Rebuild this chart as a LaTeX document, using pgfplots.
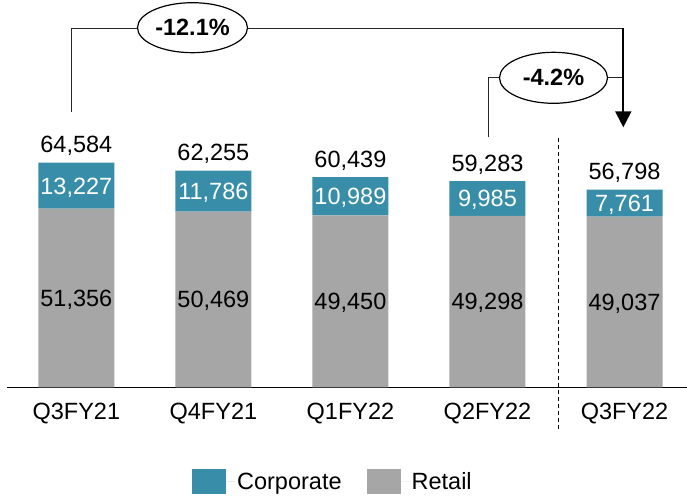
\documentclass[border=0pt]{standalone}
\usepackage{pgfplots}
\pgfplotsset{compat=1.18}
\usepackage{fontspec}
\setmainfont{Liberation Sans}
\usetikzlibrary{shapes.geometric,arrows.meta}
\definecolor{corp}{RGB}{56,142,168}
\definecolor{retail}{RGB}{166,166,166}
\newcommand{\lbl}{\fontsize{23.5}{28}\selectfont}
\begin{document}
\begin{tikzpicture}
\useasboundingbox (0pt,0pt) rectangle (687pt,496pt);
\begin{axis}[
  at={(7pt,108.7pt)}, anchor=south west,
  scale only axis, width=680pt, height=387.3pt,
  xmin=-0.506, xmax=4.456, ymin=0, ymax=111325,
  ybar stacked, bar width=76pt,
  axis x line*=bottom, axis y line=none,
  x axis line style={line width=1.5pt, black},
  xtick={0,1,2,3,4},
  xticklabels={Q3FY21,Q4FY21,Q1FY22,Q2FY22,Q3FY22},
  major tick length=0pt,
  xticklabel style={font=\lbl, anchor=base, yshift=-31.7pt},
  ytick=\empty,
  reverse legend,
  legend columns=2,
  legend style={draw=none, font=\lbl, at={(0.4793,-0.2437)}, anchor=center,
    /tikz/every even column/.append style={column sep=23pt}},
  mylegend/.style={legend image code/.code={\path[##1,draw=none] (0pt,-12.5pt) rectangle (34pt,12.5pt); \path (0pt,0pt) -- (43pt,0pt);}},
]
\addplot[fill=retail, draw=none, mylegend] coordinates {(0,51356) (1,50469) (2,49450) (3,49298) (4,49037)};
\addlegendentry{Retail}
\addplot[fill=corp, draw=none, mylegend] coordinates {(0,13227) (1,11786) (2,10989) (3,9985) (4,7761)};
\addlegendentry{Corporate}
% anchor points for value labels
\foreach \x/\r/\c/\t in {
  0/25678/57969.5/64583,
  1/25234.5/56362/62255,
  2/24725/54944.5/60439,
  3/24649/54290.5/59283,
  4/24518.5/52917.5/56798}{
  \edef\tmp{\noexpand\coordinate (r\x) at (axis cs:\x,\r);
    \noexpand\coordinate (c\x) at (axis cs:\x,\c);
    \noexpand\coordinate (t\x) at (axis cs:\x,\t);}
  \tmp
}
\end{axis}
% value labels
\foreach \x/\rl/\cl/\tl in {
  0/51{,}356/13{,}227/64{,}584,
  1/50{,}469/11{,}786/62{,}255,
  2/49{,}450/10{,}989/60{,}439,
  3/49{,}298/9{,}985/59{,}283,
  4/49{,}037/7{,}761/56{,}798}{
  \node[font=\lbl, anchor=base, yshift=-8.4pt, text=black] at (r\x) {\rl};
  \node[font=\lbl, anchor=base, yshift=-8.4pt, text=white] at (c\x) {\cl};
  \node[font=\lbl, anchor=base, yshift=9.8pt, text=black] at (t\x) {\tl};
}
% annotations
\draw[black!85, line width=1pt] (71.7pt,384.3pt) -- (71.7pt,467pt) -- (623.3pt,467pt);
\draw[black!85, line width=1pt] (488.3pt,358.7pt) -- (488.3pt,418.3pt) -- (623.3pt,418.3pt);
\draw[black, line width=2pt, -{Triangle[width=16pt,length=16pt]}] (623.3pt,468pt) -- (623.3pt,368.7pt);
\node[ellipse, draw=black, line width=1.2pt, fill=white, minimum width=110pt, minimum height=50pt, inner sep=0pt, font=\lbl\bfseries] at (192.5pt,468.3pt) {-12.1\%};
\node[ellipse, draw=black, line width=1.2pt, fill=white, minimum width=108pt, minimum height=51pt, inner sep=0pt, font=\lbl\bfseries] at (553.5pt,418.2pt) {-4.2\%};
\draw[black, line width=1pt, dash pattern=on 4pt off 3pt] (558.3pt,358.3pt) -- (558.3pt,66pt);
\end{tikzpicture}
\end{document}
